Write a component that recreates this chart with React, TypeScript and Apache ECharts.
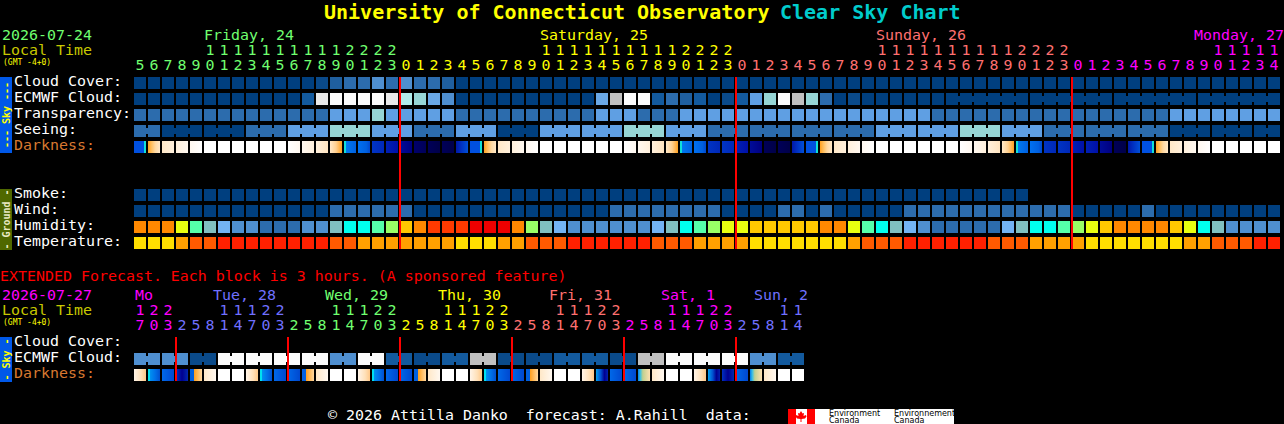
import React, { useEffect, useRef } from "react";
import * as echarts from "echarts";

// ---------- categories and tick labels ----------
const hours: number[] = [
  5,6,7,8,9,10,11,12,13,14,15,16,17,18,19,20,21,22,23,
  0,1,2,3,4,5,6,7,8,9,10,11,12,13,14,15,16,17,18,19,20,21,22,23,
  0,1,2,3,4,5,6,7,8,9,10,11,12,13,14,15,16,17,18,19,20,21,22,23,
  0,1,2,3,4,5,6,7,8,9,10,11,12,13,14,
];
const extHours: number[] = [
  17,20,23,
  2,5,8,11,14,17,20,23,
  2,5,8,11,14,17,20,23,
  2,5,8,11,14,17,20,23,
  2,5,8,11,14,17,20,23,
  2,5,8,11,14,17,20,23,
  2,5,8,11,14,
];
const mainRows = ["Cloud Cover:", "ECMWF Cloud:", "Transparency:", "Seeing:", "Darkness:", "", "", "Smoke:", "Wind:", "Humidity:", "Temperature:"];
const extRows = ["Cloud Cover:", "ECMWF Cloud:", "Darkness:"];
const mainDayColors = ["#70ff70", "#ffff00", "#ff7070", "#ff00ff"];
const extDayColors = ["#ff00ff", "#7070ff", "#70ff70", "#ffff00", "#ff7070", "#ff00ff", "#7070ff"];
const mainDayLabels = ["Friday, 24", "Saturday, 25", "Sunday, 26", "Monday, 27"];
const extDayLabels = ["Mo", "Tue, 28", "Wed, 29", "Thu, 30", "Fri, 31", "Sat, 1", "Sun, 2"];
const midnights = [19, 43, 67];
const extMidnights = [3, 11, 19, 27, 35, 43];

// ---------- series values (level codes) ----------
const cloudCover = ["NNNNNNNNNN","NNNneddfdf","ddeNNNNNNN","NNNNNNNNNN","NNNNNNNNNN","NNNNNNNNNN","NNNNNNNNNN","NNNNNNNNNN","NN"].join("").split("");
const ecmwfCloud = ["NNNNNNNNNN","NNmxwwwwxu","thfNNNNNNN","NNNhywwmde","mNnmgtwytd","NnNNNNNNNN","NNNNNNNNNN","NNNNNNNNNN","NN"].join("").split("");
const ecmwfRuns = [[58, 6], [64, 6], [70, 6], [76, 6]];
const transparency = ["dddddddddd","ddddgggtgg","gggddddddd","dddgggdddg","gggggggggg","gggggggddd","dddddddddd","ddddgggggg","gg"].join("").split("");
const seeingBlocks = "dNNdgtgdgNggtgddddggtgdddNNN".split("");
const seeingSizes = [2,3,3,3,3,3,3,3,3,3,3,3,3,3,3,3,3,3,3,3,3,3,3,3,3,3,3,2];
const darkness = ["ABCDEWWWWW","WFGHIJKLMP","QRRTABCDEW","WWWWWFGHIJ","KLLMPRRTAB","CDEWWWWWWF","GHIJKLLMMP","RTABCDEWWW","WW"].join("").split("");
const smoke = ["NNNNNNNNNN","NNNNNNNNNN","NNNNNNNNNN","NNNNNNNNNN","NNNNNNNNNN","NNNNNNNNNN","NNNN"].join("").split("");
const wind = ["NNNNNNNNNN","NNNNdddddd","NNNNNNNNNN","NNNNdddddd","ddNNNNddNd","NNNNNddddd","dddddddNNN","NNdNNNNNNN","NN"].join("").split("");
const humidity = ["OOOYMTSffd","ddffTCCMLA","ORRREEEOLT","SffffffSTC","MLYYAAAAAO","OYMCTSfddd","ddSTCCMLYA","OOOOAYCTff","ff"].join("").split("");
const temperature = ["aaabccrrrr","rrrrccbbbb","bbbaaabbcc","crrrrrrccc","bbbbaaaaaa","abcccrrrrr","rcccbbbbaa","aaaaabbccc","rr"].join("").split("");
const extEcmwfBlocks = "ffnwwwwfwmnmynnmmnywwwfm".split("");
const extDarkness = ["abcdefWW","abccefWW","abccefWW","abccefWW","agcchfWW","agdchfWW"].join("").split("");

// ---------- palettes ----------
const skyColors: Record<string, string> = {
  N: "#003f7f", n: "#0a4a8a", m: "#135a9e", e: "#1f5f9f", d: "#2c6cad", f: "#4f8fd0",
  g: "#5f9fe3", h: "#6aa8e6", t: "#96d5d5", u: "#b0ecec", w: "#fbfbfb", x: "#e8e8e8", y: "#c0c0c0",
};
const humidityColors: Record<string, string> = {
  O: "#ff8800", A: "#ffc800", Y: "#e8ff10", L: "#99ff66", M: "#55ffaa", C: "#00ffee", T: "#80c0c0",
  S: "#73b3f3", f: "#4f8fd0", d: "#2c6cad", R: "#ff3a00", E: "#ee0000",
};
const temperatureColors: Record<string, string> = { a: "#ffde00", b: "#ffa000", c: "#ff5a00", r: "#ff2000" };
type Stops = [number, string][];
const darknessStops: Record<string, Stops> = {
  A: [[0, "#0050e0"], [0.8, "#0050e0"], [0.8, "#10e0d8"], [1, "#10e0d8"]],
  B: [[0, "#ffa020"], [0.3, "#ffc060"], [0.6, "#ffd8a0"], [1, "#ffe8c8"]],
  C: [[0, "#ffe8c8"], [1, "#fff0dc"]],
  D: [[0, "#fff0dc"], [1, "#fff8f0"]],
  E: [[0, "#fff8f0"], [1, "#ffffff"]],
  W: [[0, "#ffffff"], [1, "#ffffff"]],
  F: [[0, "#ffffff"], [1, "#fff8f0"]],
  G: [[0, "#fff8f0"], [1, "#fff0dc"]],
  H: [[0, "#fff0dc"], [1, "#ffe4c0"]],
  I: [[0, "#ffe8c8"], [0.5, "#ffd090"], [1, "#ffa020"]],
  J: [[0, "#10e0d8"], [0.17, "#10e0d8"], [0.17, "#0078f0"], [1, "#0060e0"]],
  K: [[0, "#0070f0"], [0.7, "#0060e0"], [1, "#0048d0"]],
  L: [[0, "#0034c4"], [1, "#0028b8"]],
  M: [[0, "#0020b4"], [1, "#0010a8"]],
  P: [[0, "#000c98"], [1, "#000080"]],
  Q: [[0, "#00006c"], [1, "#000058"]],
  R: [[0, "#000058"], [1, "#000048"]],
  T: [[0, "#0018a8"], [0.5, "#0034c4"], [1, "#0050d8"]],
  a: [[0, "#fff4e8"], [0.6, "#ffe0b8"], [1, "#ffc888"]],
  b: [[0, "#00e0f0"], [0.18, "#00e0f0"], [0.18, "#0090f0"], [0.6, "#0070e8"], [1, "#0050d0"]],
  c: [[0, "#0068e8"], [1, "#0048d0"]],
  d: [[0, "#0030c0"], [0.5, "#000090"], [1, "#0028b0"]],
  e: [[0, "#0060e0"], [0.3, "#0060e0"], [0.35, "#ffa020"], [1, "#ffd8a0"]],
  f: [[0, "#ffe8c8"], [1, "#fff8f0"]],
  g: [[0, "#00a0f0"], [0.4, "#0050d0"], [0.7, "#000090"], [1, "#0020b0"]],
  h: [[0, "#0080f0"], [0.2, "#40c0e0"], [0.4, "#c0d090"], [1, "#ffe0b0"]],
};

// ---------- helpers ----------
const MONO = "'DejaVu Sans Mono', monospace";
const FS = 14.95;
const expandBlocks = (blocks: string[], sizes: number[]) =>
  blocks.flatMap((b, i) => Array.from({ length: sizes[i] }, () => b));
const linksFromSizes = (sizes: number[]) => {
  const links = new Set<number>();
  let col = 0;
  sizes.forEach((s) => {
    for (let k = 0; k < s - 1; k++) links.add(col + k);
    col += s;
  });
  return links;
};
const linksFromRuns = (runs: number[][]) => {
  const links = new Set<number>();
  runs.forEach(([start, len]) => {
    for (let k = 0; k < len - 1; k++) links.add(start + k);
  });
  return links;
};
const dayIndex = (list: number[]) => {
  let d = 0;
  return list.map((h, i) => {
    if (i > 0 && h < list[i - 1]) d++;
    return d;
  });
};
const mainDays = dayIndex(hours);
const extDays = dayIndex(extHours);

const rowSeries = (
  name: string,
  axis: number,
  row: number,
  codes: string[],
  fillOf: (code: string) => any,
  links: Set<number> = new Set(),
) => ({
  type: "custom",
  name,
  xAxisIndex: axis,
  yAxisIndex: axis === 0 ? 0 : 1,
  silent: true,
  clip: false,
  data: codes.map((_, i) => [i, row]),
  encode: { x: 0, y: 1 },
  renderItem: (params: any, api: any) => {
    const p = api.coord([api.value(0), api.value(1)]);
    const i = params.dataIndex;
    const fill = fillOf(codes[i]);
    const x = Math.round(p[0] - 6);
    const y = Math.round(p[1] - 6);
    const children: any[] = [{ type: "rect", shape: { x, y, width: 12, height: 12 }, style: { fill } }];
    if (links.has(i)) {
      children.push({ type: "rect", shape: { x: x + 12, y: y + 3, width: 2, height: 6 }, style: { fill } });
    }
    return { type: "group", children };
  },
});

const gradient = (code: string) => {
  const s = darknessStops[code];
  return new echarts.graphic.LinearGradient(0, 0, 1, 0, s.map(([offset, color]) => ({ offset, color })));
};

const redLines = (axis: number, cols: number[], rowTopInset: number, h: number) => ({
  type: "custom",
  xAxisIndex: axis,
  yAxisIndex: axis === 0 ? 0 : 1,
  silent: true,
  clip: false,
  z: 5,
  data: cols.map((c) => [c, 0]),
  encode: { x: 0, y: 1 },
  renderItem: (params: any, api: any) => {
    const p = api.coord([api.value(0), 0]);
    return {
      type: "rect",
      shape: { x: Math.round(p[0] - 7), y: params.coordSys.y + rowTopInset, width: 2, height: h },
      style: { fill: "#ff0000" },
    };
  },
});

const xAxis = (grid: number, list: number[], days: number[], colors: string[], tens: boolean) => ({
  type: "category",
  gridIndex: grid,
  position: "top",
  offset: tens ? 15 : 0,
  data: list.map((h) => (tens ? (h >= 10 ? String(Math.floor(h / 10)) : "") : String(h % 10))),
  axisLine: { show: false },
  axisTick: { show: false },
  splitLine: { show: false },
  axisLabel: {
    show: true,
    interval: 0,
    margin: 2.5,
    hideOverlap: false,
    fontFamily: MONO,
    fontSize: FS,
    color: (_: any, i: number) => colors[days[i]],
  },
});

const yAxis = (grid: number, rows: string[]) => ({
  type: "category",
  gridIndex: grid,
  inverse: true,
  data: rows,
  axisLine: { show: false },
  axisTick: { show: false },
  splitLine: { show: false },
  axisLabel: {
    show: true,
    interval: 0,
    align: "left",
    verticalAlign: "bottom",
    lineHeight: 4,
    margin: 119,
    fontFamily: MONO,
    fontSize: FS,
    color: (v: string) => (v === "Darkness:" ? "#d87830" : "#ffffff"),
  },
});

const txt = (text: string, x: number, y: number, fill: string, fontSize = FS, weight = "normal", family = MONO) => ({
  type: "text",
  x,
  y,
  silent: true,
  style: { text, fill, fontFamily: family, fontSize, fontWeight: weight, textAlign: "left", textVerticalAlign: "middle" },
});

const bar = (y: number, h: number, fill: string, label: string, labelFill: string) => [
  { type: "rect", silent: true, shape: { x: 0, y, width: 12, height: h }, style: { fill } },
  {
    type: "text",
    silent: true,
    x: 6,
    y: y + h / 2,
    rotation: Math.PI / 2,
    style: { text: label, fill: labelFill, fontFamily: MONO, fontSize: 10, fontWeight: "bold", textAlign: "center", textVerticalAlign: "middle" },
  },
];

const mapleLeaf: number[][] = [
  [801, 411], [802.5, 413.5], [804, 413], [803.5, 416], [806, 415], [806.5, 416.5], [805, 418.5], [801.5, 419],
  [801.5, 422], [800.5, 422], [800.5, 419], [797, 418.5], [795.5, 416.5], [796, 415], [798.5, 416], [798, 413], [799.5, 413.5],
];

export default function App() {
  const ref = useRef<HTMLDivElement>(null);
  useEffect(() => {
    document.body.style.margin = "0";
    document.body.style.background = "#000";
    const chart = echarts.init(ref.current!, null, { renderer: "svg", width: 1284, height: 424 });
    const sky = (c: string) => skyColors[c];
    chart.setOption({
      animation: false,
      backgroundColor: "#000000",
      grid: [
        { left: 133, top: 75, width: hours.length * 14, height: mainRows.length * 16, containLabel: false },
        { left: 133, top: 335, width: extHours.length * 14, height: extRows.length * 16, containLabel: false },
      ],
      xAxis: [
        xAxis(0, hours, mainDays, mainDayColors, false),
        xAxis(0, hours, mainDays, mainDayColors, true),
        xAxis(1, extHours, extDays, extDayColors, false),
        xAxis(1, extHours, extDays, extDayColors, true),
      ],
      yAxis: [yAxis(0, mainRows), yAxis(1, extRows)],
      series: [
        rowSeries("Cloud Cover", 0, 0, cloudCover, sky),
        rowSeries("ECMWF Cloud", 0, 1, ecmwfCloud, sky, linksFromRuns(ecmwfRuns)),
        rowSeries("Transparency", 0, 2, transparency, sky),
        rowSeries("Seeing", 0, 3, expandBlocks(seeingBlocks, seeingSizes), sky, linksFromSizes(seeingSizes)),
        rowSeries("Darkness", 0, 4, darkness, gradient),
        rowSeries("Smoke", 0, 7, smoke, sky),
        rowSeries("Wind", 0, 8, wind, sky),
        rowSeries("Humidity", 0, 9, humidity, (c) => humidityColors[c]),
        rowSeries("Temperature", 0, 10, temperature, (c) => temperatureColors[c]),
        redLines(0, midnights, 2, 172),
        rowSeries("Ext ECMWF Cloud", 2, 1, expandBlocks(extEcmwfBlocks, extEcmwfBlocks.map(() => 2)), sky, linksFromSizes(extEcmwfBlocks.map(() => 2))),
        rowSeries("Ext Darkness", 2, 2, extDarkness, gradient),
        redLines(2, extMidnights, 2, 44),
      ],
      graphic: {
        elements: [
          txt("University of Connecticut Observatory", 324, 12, "#ffff00", 20, "bold"),
          txt("Clear Sky Chart", 780, 12, "#00cccc", 20, "bold"),
          txt("2026-07-24", 2, 35, "#70ff70"),
          txt("Local Time", 2, 50, "#c8c800"),
          txt("(GMT -4+0)", 3, 62, "#ffff00", 8),
          txt(mainDayLabels[0], 204, 35, mainDayColors[0]),
          txt(mainDayLabels[1], 540, 35, mainDayColors[1]),
          txt(mainDayLabels[2], 876, 35, mainDayColors[2]),
          txt(mainDayLabels[3], 1194, 35, mainDayColors[3]),
          ...bar(77, 76, "#0058e8", "--- Sky ---", "#ffff00"),
          ...bar(189, 61, "#4f6800", "- Ground -", "#e8e8c0"),
          txt("EXTENDED Forecast. Each block is 3 hours. (A sponsored feature)", 0, 276, "#ff0000"),
          txt("2026-07-27", 2, 295, "#ff00ff"),
          txt("Local Time", 2, 310, "#c8c800"),
          txt("(GMT -4+0)", 3, 322, "#ffff00", 8),
          txt(extDayLabels[0], 135, 295, extDayColors[0]),
          txt(extDayLabels[1], 213, 295, extDayColors[1]),
          txt(extDayLabels[2], 325, 295, extDayColors[2]),
          txt(extDayLabels[3], 438, 295, extDayColors[3]),
          txt(extDayLabels[4], 549, 295, extDayColors[4]),
          txt(extDayLabels[5], 661, 295, extDayColors[5]),
          txt(extDayLabels[6], 754, 295, extDayColors[6]),
          ...bar(337, 45, "#0058e8", "- Sky -", "#ffff00"),
          txt("© 2026 Attilla Danko  forecast: A.Rahill  data:", 328, 415, "#ffffff"),
          { type: "rect", silent: true, shape: { x: 788, y: 409, width: 166, height: 15 }, style: { fill: "#ffffff" } },
          { type: "rect", silent: true, shape: { x: 788, y: 409, width: 8, height: 15 }, style: { fill: "#ff0000" } },
          { type: "rect", silent: true, shape: { x: 807, y: 409, width: 8, height: 15 }, style: { fill: "#ff0000" } },
          { type: "polygon", silent: true, shape: { points: mapleLeaf }, style: { fill: "#ff0000" } },
          txt("Environment", 829, 413, "#000000", 8, "normal", "'DejaVu Sans', sans-serif"),
          txt("Canada", 829, 420, "#000000", 8, "normal", "'DejaVu Sans', sans-serif"),
          txt("Environnement", 894, 413, "#000000", 8, "normal", "'DejaVu Sans', sans-serif"),
          txt("Canada", 894, 420, "#000000", 8, "normal", "'DejaVu Sans', sans-serif"),
        ],
      },
    });
    return () => chart.dispose();
  }, []);
  return <div ref={ref} style={{ width: 1284, height: 424 }} />;
}
